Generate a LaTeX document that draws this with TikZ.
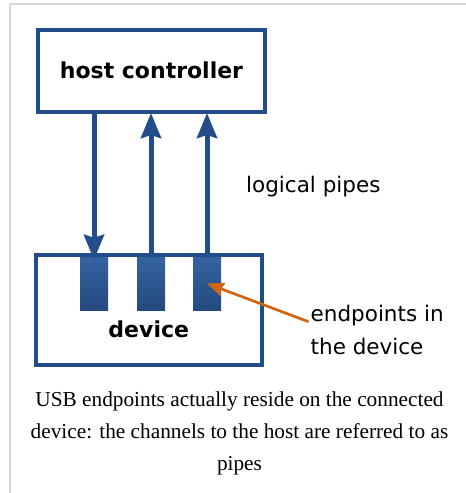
\documentclass[tikz,border=0pt]{standalone}
\usepackage{fontspec}
\setmainfont{Liberation Serif}
\newfontfamily\dejavu{DejaVu Sans}
\usetikzlibrary{arrows.meta}
\definecolor{usbblue}{RGB}{35,76,138}
\definecolor{eptop}{RGB}{53,99,160}
\definecolor{epbot}{RGB}{36,74,128}
\definecolor{ptrorange}{RGB}{204,102,17}
\definecolor{framegray}{RGB}{214,214,214}
\tikzset{
  boxnode/.style={draw=usbblue, line width=4pt, fill=none, inner sep=0pt},
  epnode/.style={draw=none, top color=eptop, bottom color=epbot, minimum width=28pt, minimum height=53pt, inner sep=0pt},
  pipe/.style={draw=usbblue, line width=5pt, -{Stealth[length=25pt,width=20pt,inset=3pt]}},
  lbl/.style={font=\dejavu\fontsize{21.5}{26}\selectfont, inner sep=0pt},
  blbl/.style={font=\dejavu\bfseries\fontsize{22}{26}\selectfont, inner sep=0pt},
  ptr/.style={draw=ptrorange, line width=2.7pt, -{Stealth[length=17pt,width=14pt,inset=2pt]}},
  captext/.style={font=\fontsize{21.3}{26}\selectfont, inner sep=0pt, anchor=base}
}
\begin{document}
\begin{tikzpicture}[x=1pt,y=-1pt]
\useasboundingbox (0,0) rectangle (466,493);
% frame
\draw[framegray, line width=1.6pt] (10,493) -- (10,4) -- (466,4);
% endpoints
\node[epnode] (ep1) at (94,283.5) {};
\node[epnode] (ep2) at (151,283.5) {};
\node[epnode] (ep3) at (207,283.5) {};
% boxes
\node[boxnode, minimum width=227pt, minimum height=82.5pt] (host) at (151.5,70.75) {};
\node[blbl] (hostlbl) at (151.5,70.75) {host controller};
\node[boxnode, minimum width=226.5pt, minimum height=110pt] (dev) at (148.75,310) {};
\node[blbl, anchor=base] (devlbl) at (148.75,337) {device};
% pipes
\coordinate (d1) at (ep1.north);
\draw[pipe] (host.south -| ep1) -- ([yshift=-3pt]d1);
\draw[pipe] (dev.north -| ep2) -- ([yshift=1pt]host.south -| ep2);
\draw[pipe] (dev.north -| ep3) -- ([yshift=1pt]host.south -| ep3);
% labels
\node[lbl, anchor=base west] (pipes) at (246,192) {logical pipes};
\node[lbl, anchor=base west] (ept1) at (310.5,321.7) {endpoints in};
\node[lbl, anchor=base west] (ept2) at (310.5,354) {the device};
\draw[ptr] ([xshift=-2pt]ept1.base west) -- (ep3.center);
% caption
\node[captext] (c1) at (239.5,406.7) {USB endpoints actually reside on the connected};
\node[captext] (c2) at (239.5,438.3) {device: the channels to the host are referred to as};
\node[captext] (c3) at (239.5,470) {pipes};
\end{tikzpicture}
\end{document}
